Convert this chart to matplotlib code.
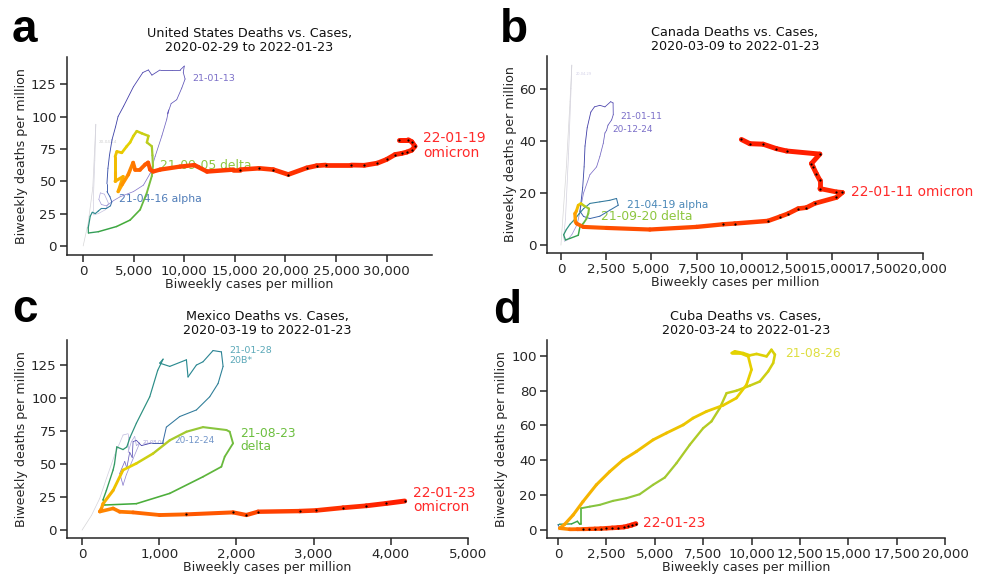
import numpy as np
import matplotlib
matplotlib.use("Agg")
import matplotlib.pyplot as plt
from matplotlib.collections import LineCollection
from matplotlib.colors import LinearSegmentedColormap
from matplotlib.ticker import FuncFormatter

# ---------------- data ----------------
# United States: biweekly cases / deaths per million, and colour position (time)
us_cases = [0, 500, 950, 1250, 1150, 1000, 1050, 1500, 2200, 2500, 2100, 1700, 1550, 1800, 2300,
            3000, 3650, 4970, 5960, 6620, 7110, 7780, 8270, 8450, 8350, 8700, 9250, 9750, 10080, 9900, 10000,
            9600, 8800, 7600, 6800, 6450, 5900,
            4970, 4000, 3450, 3200, 2850, 2600, 2450, 2350, 2350, 2650, 2830,
            2700, 2300, 1800, 1500, 1200, 900, 700, 500, 520, 1500, 3300, 4640, 5630, 6290, 6790, 6900,
            6850, 6790, 6300, 6460, 5800, 5300, 4970, 4640, 4310, 3820, 3330, 3160, 3160, 3160, 3950, 3460,
            3850, 4450, 4940, 5140, 5630, 6130, 6420, 6620, 6920,
            7610, 9580, 11000, 12250, 14860, 15500, 17400, 18800, 20290, 22100, 23090, 24000, 26500, 27800,
            29100, 30000, 30840, 31500, 32000, 32500, 32810, 32500, 32150, 31200]
us_deaths = [0, 18, 45, 94, 66, 35, 24, 25, 28, 33, 40, 41, 36, 32, 31,
             35, 38, 42, 47, 56, 69, 85, 98, 105, 102, 110, 113, 122, 129, 134, 139,
             136, 136, 136, 132, 136, 134,
             123, 108, 100, 92, 82, 70, 60, 48, 42, 38, 34,
             31, 29, 29, 27, 25, 26, 23, 14, 10, 11, 15, 20, 28, 41, 54, 62,
             70, 77, 80, 85, 87, 88.7, 85, 80, 77, 72, 73, 69, 57, 50, 53.6, 42,
             47.4, 55, 64.4, 59, 59, 62.9, 64.4, 59, 57.5,
             59, 61.3, 62.5, 57.5, 59, 59, 60, 59, 55.2, 60.3, 62, 62.5, 62.5, 62.3,
             64, 66.8, 70.6, 71.5, 72.5, 74, 77, 80.5, 82, 82]
us_shade = [0.00, 0.03, 0.06, 0.09, 0.12, 0.15, 0.18, 0.21, 0.24, 0.26, 0.28, 0.29, 0.30, 0.32, 0.34,
            0.36, 0.37, 0.38, 0.39, 0.40, 0.41, 0.42, 0.43, 0.435, 0.437, 0.44, 0.445, 0.45, 0.455, 0.458, 0.46,
            0.465, 0.47, 0.472, 0.475, 0.478, 0.48,
            0.49, 0.50, 0.51, 0.515, 0.52, 0.53, 0.54, 0.55, 0.56, 0.565, 0.57,
            0.60, 0.61, 0.62, 0.63, 0.635, 0.64, 0.65, 0.67, 0.68, 0.70, 0.72, 0.735, 0.75, 0.77, 0.785, 0.80,
            0.81, 0.82, 0.83, 0.835, 0.84, 0.845, 0.85, 0.855, 0.86, 0.865, 0.87, 0.875, 0.885, 0.89, 0.895, 0.90,
            0.91, 0.92, 0.93, 0.935, 0.94, 0.945, 0.95, 0.955, 0.96,
            0.963, 0.966, 0.969, 0.972, 0.975, 0.977, 0.979, 0.981, 0.983, 0.985, 0.986, 0.987, 0.988, 0.989,
            0.99, 0.991, 0.992, 0.993, 0.994, 0.995, 0.996, 0.997, 0.998, 1.0]
us_dots_from = 94

# Canada
ca_cases = [0, 300, 500, 600, 560, 420, 250, 150, 200, 350, 600,
            900, 1050, 1250, 1600, 1969, 2150, 2337, 2430, 2520, 2600, 2800, 2890, 2880,
            2750, 2430, 2150, 1850, 1650,
            1450, 1330, 1280, 1200, 1100, 1050,
            1250, 1600, 2150, 2700, 3165, 3070, 2700, 2150, 1600, 1250,
            1000, 770, 500, 300, 150, 250, 500, 957, 1049,
            1233, 1400, 1509, 1550, 1300,
            1100, 957, 850,
            773, 800, 865, 1233,
            2521, 4913, 7490, 8960, 9600, 11440, 12090, 12550, 13100, 13560, 14020, 15220, 15550, 15220,
            14300, 14300, 14110, 13930, 13840, 14300, 12460, 11900, 11170, 10430, 9970]
ca_deaths = [0, 30, 55, 69, 60, 35, 10, 3, 1.5, 2, 4,
             8, 13, 20, 27, 30, 34, 39, 43, 44, 46, 48, 50, 54.5,
             55, 53, 53.6, 53, 51,
             45, 38, 30, 22, 16, 13,
             11, 10.2, 11.1, 13.4, 15.3, 17.9, 17.2, 16.6, 16, 14,
             12, 10, 8, 6, 4, 2, 2.6, 3.8, 7,
             8.3, 10, 12.1, 14, 15,
             16, 15.3, 13,
             12.1, 9, 8.3, 7,
             6.6, 6, 7, 8, 8.3, 9.3, 10.9, 12.1, 14, 14.4, 16, 18.3, 20.2, 20.4,
             21.7, 24.9, 27.4, 30, 31.3, 34.9, 36.1, 37, 38.7, 38.9, 40.5]
ca_shade = [0.0, 0.03, 0.06, 0.08, 0.10, 0.13, 0.16, 0.20, 0.25, 0.30, 0.33,
            0.35, 0.37, 0.39, 0.40, 0.41, 0.42, 0.43, 0.44, 0.445, 0.45, 0.455, 0.46, 0.465,
            0.47, 0.475, 0.48, 0.485, 0.49,
            0.50, 0.51, 0.52, 0.53, 0.54, 0.55,
            0.56, 0.57, 0.58, 0.59, 0.595, 0.60, 0.605, 0.61, 0.615, 0.62,
            0.63, 0.64, 0.65, 0.66, 0.67, 0.68, 0.69, 0.70, 0.72,
            0.75, 0.77, 0.79, 0.80, 0.82,
            0.85, 0.87, 0.89,
            0.90, 0.92, 0.93, 0.95,
            0.955, 0.96, 0.965, 0.97, 0.973, 0.976, 0.978, 0.98, 0.982, 0.984, 0.986, 0.988, 0.99, 0.991,
            0.992, 0.993, 0.994, 0.995, 0.996, 0.997, 0.998, 0.998, 0.999, 0.999, 1.0]
ca_dots_from = 69

# Mexico
mx_cases = [0, 121, 229, 315, 423, 531, 596, 596, 639, 682, 704, 747, 661, 574, 531,
            488, 553, 580, 617, 650, 661, 704, 769, 900, 1045,
            1092, 1265, 1481, 1654, 1762, 1827, 1805, 1697,
            1567, 1481, 1373, 1352, 1136, 1006, 1050, 980,
            877, 704, 620, 580, 531, 450, 420, 402, 315, 272,
            294, 704, 1136, 1567, 1805, 1848, 1956, 1913, 1870,
            1567, 1352, 1136, 920, 704, 531, 402, 272, 250,
            229, 402, 488, 661, 1006, 1352, 1956, 2129, 2280, 2820, 3036, 3381, 3683, 3942, 4180]
mx_deaths = [0, 11, 24, 39, 57, 72, 73, 59, 67, 71, 64, 66, 54, 42, 34,
             43, 52, 47, 59, 55, 67, 68, 64, 66, 66,
             78, 86, 91, 101, 111, 124, 135, 136,
             127.5, 125, 116, 129, 124, 126.5, 129.5, 121,
             101, 81, 70, 63, 61, 63, 50, 45.5, 30, 23,
             19, 20, 27.8, 40.4, 48, 55.6, 65.7, 74.5, 75.8,
             78, 74.5, 68, 58, 50.5, 45.5, 30, 20, 16,
             14, 16.4, 13.9, 13.4, 11.4, 11.9, 13.4, 11.4, 13.9, 14.4, 14.9, 16.9, 18.4, 20.2, 22]
mx_shade = [0.0, 0.05, 0.10, 0.15, 0.20, 0.24, 0.26, 0.27, 0.28, 0.29, 0.30, 0.31, 0.33, 0.35, 0.37,
            0.40, 0.42, 0.43, 0.44, 0.45, 0.46, 0.47, 0.48, 0.52, 0.57,
            0.605, 0.61, 0.615, 0.62, 0.622, 0.625, 0.627, 0.63,
            0.632, 0.634, 0.636, 0.638, 0.64, 0.642, 0.644, 0.646,
            0.65, 0.655, 0.66, 0.665, 0.67, 0.675, 0.68, 0.685, 0.69, 0.70,
            0.72, 0.73, 0.74, 0.75, 0.76, 0.765, 0.77, 0.78, 0.79,
            0.80, 0.81, 0.82, 0.835, 0.85, 0.865, 0.88, 0.895, 0.91,
            0.92, 0.925, 0.93, 0.935, 0.94, 0.945, 0.955, 0.96, 0.965, 0.975, 0.98, 0.985, 0.99, 0.995, 1.0]
mx_dots_from = 74

# Cuba
cu_cases = [0, 150, 300, 100, 0, 86, 700, 1000, 1120, 1207, 1207,
            1640, 2155, 2840, 3530, 4220, 4910, 5520, 6120, 6810, 7500, 7930, 8360, 8710, 9220, 9910,
            10430, 10860, 11120, 11210,
            11030, 10780, 10260, 9910, 9570, 9140, 8970, 9400, 9830, 10000,
            9740, 9220, 8530, 7670, 6980, 6470, 5600, 4910, 4050, 3360, 2670, 1980, 1290, 780, 345, 86,
            600, 1000, 1300, 1600, 1900, 2200, 2500, 2800, 3100, 3400, 3600, 3800, 4020]
cu_deaths = [0, 0.3, 0.6, 1, 3, 3.3, 3.5, 5, 3.3, 3.3, 12.5,
             13.4, 14.4, 16.7, 18.2, 20.5, 25.9, 30.1, 38.3, 48.9, 58.4, 62.3, 69.9, 78.5, 79.9, 82.8,
             85.2, 91, 95.8, 100.6,
             103.4, 99.6, 101, 100.2, 101.5, 102.5, 101.5, 101.5, 99.6, 92,
             83.3, 75.7, 71.5, 68, 64.2, 60.3, 55.6, 51.7, 45, 40.2, 33.5, 25.9, 16.3, 8.6, 3.3, 1,
             0.4, 0.45, 0.5, 0.6, 0.7, 0.8, 1.0, 1.2, 1.4, 1.7, 2.2, 2.8, 3.6]
cu_shade = [0.0, 0.2, 0.4, 0.5, 0.6, 0.68, 0.70, 0.71, 0.72, 0.73, 0.76,
            0.79, 0.795, 0.80, 0.803, 0.806, 0.81, 0.813, 0.816, 0.82, 0.823, 0.826, 0.829, 0.832, 0.835, 0.838,
            0.84, 0.843, 0.846, 0.85,
            0.851, 0.852, 0.853, 0.854, 0.855, 0.856, 0.857, 0.858, 0.859, 0.86,
            0.862, 0.864, 0.866, 0.868, 0.87, 0.872, 0.874, 0.876, 0.878, 0.88, 0.883, 0.886, 0.89, 0.895, 0.90, 0.91,
            0.93, 0.94, 0.95, 0.96, 0.965, 0.97, 0.975, 0.98, 0.985, 0.99, 0.993, 0.996, 1.0]
cu_dots_from = 58

titles = ["United States Deaths vs. Cases,\n2020-02-29 to 2022-01-23",
          "Canada Deaths vs. Cases,\n2020-03-09 to 2022-01-23",
          "Mexico Deaths vs. Cases,\n2020-03-19 to 2022-01-23",
          "Cuba Deaths vs. Cases,\n2020-03-24 to 2022-01-23"]
panel_letters = ["a", "b", "c", "d"]
xlabel = "Biweekly cases per million"
ylabel = "Biweekly deaths per million"

# ---------------- style ----------------
cmap = LinearSegmentedColormap.from_list("wave", [
    (0.00, '#d6d6d6'), (0.20, '#d0cee0'), (0.30, '#aaa2da'), (0.40, '#7d6ec8'),
    (0.50, '#3f3aa6'), (0.57, '#3a62ac'), (0.64, '#2a8a90'), (0.72, '#3aa83a'),
    (0.80, '#8cc63f'), (0.86, '#e6d200'), (0.91, '#ffa000'), (0.95, '#ff5a00'),
    (1.00, '#ff1e00')])

fig = plt.figure(figsize=(9.86, 5.75), dpi=100)
W, H = 986, 575

def px_axes(l, r, t, b):
    return fig.add_axes([l / W, 1 - b / H, (r - l) / W, (b - t) / H])

axes = [px_axes(67, 432, 57, 255), px_axes(547, 923, 56, 253),
        px_axes(67, 468, 340, 538), px_axes(547, 945, 340, 538)]
lims = [((-1600, 34500), (-7, 146)), ((-770, 20000), (-3, 72.5)),
        ((-195, 5000), (-6, 144)), ((-570, 20000), (-4.6, 109))]
xticks = [np.arange(0, 30001, 5000), np.arange(0, 20001, 2500),
          np.arange(0, 5001, 1000), np.arange(0, 20001, 2500)]
yticks = [np.arange(0, 126, 25), np.arange(0, 61, 20),
          np.arange(0, 126, 25), np.arange(0, 101, 20)]

def draw_path(ax, xs, ys, cs, dots_from):
    xs = np.asarray(xs, float); ys = np.asarray(ys, float); cs = np.asarray(cs, float)
    pts = np.column_stack([xs, ys])
    segs = np.stack([pts[:-1], pts[1:]], axis=1)
    cm = (cs[:-1] + cs[1:]) / 2
    lws = 0.5 + 3.1 * cm ** 5
    lc = LineCollection(segs, colors=cmap(cm), linewidths=lws,
                        capstyle='round', joinstyle='round', zorder=2)
    ax.add_collection(lc)
    ax.plot(xs[dots_from:], ys[dots_from:], 'o', color='k', ms=1.6, mew=0, zorder=3)

series = [(us_cases, us_deaths, us_shade, us_dots_from),
          (ca_cases, ca_deaths, ca_shade, ca_dots_from),
          (mx_cases, mx_deaths, mx_shade, mx_dots_from),
          (cu_cases, cu_deaths, cu_shade, cu_dots_from)]

fmt = FuncFormatter(lambda v, p: f"{v:,.0f}")
for i, ax in enumerate(axes):
    draw_path(ax, *series[i])
    ax.set_xlim(*lims[i][0]); ax.set_ylim(*lims[i][1])
    ax.set_xticks(xticks[i]); ax.set_yticks(yticks[i])
    ax.xaxis.set_major_formatter(fmt)
    for s in ['top', 'right']:
        ax.spines[s].set_visible(False)
    for s in ['left', 'bottom']:
        ax.spines[s].set_linewidth(1.1)
        ax.spines[s].set_color('#262626')
    ax.tick_params(direction='out', length=5, width=1.1, labelsize=9.6,
                   colors='#262626', pad=2.5)
    ax.set_title(titles[i], fontsize=9.2, pad=4, color='#111111', linespacing=1.1)
    ax.set_xlabel(xlabel, fontsize=9.1, labelpad=0, color='#262626')
    ax.set_ylabel(ylabel, fontsize=9.1, labelpad=2, color='#262626')

# annotations (text, x, y, colour, size) in data coordinates
ann_us = [("20-04-14", 1580, 80.7, '#d0d0d0', 3),
          ("21-01-13", 10770, 129.4, '#7b6fc8', 6.8),
          ("21-04-16 alpha", 3590, 36.3, '#4f7cb8', 7.8),
          ("21-09-05 delta", 7610, 62.3, '#8dc63f', 8.9),
          ("22-01-19\nomicron", 33590, 77.6, '#ff2a2a', 10)]
ann_ca = [("20-04-29", 828, 65.5, '#d0cee6', 2.5),
          ("21-01-11", 3257, 49.4, '#7b6fc8', 6.7),
          ("20-12-24", 2834, 44.3, '#7b6fc8', 6.5),
          ("21-04-19 alpha", 3625, 15.3, '#4a88b8', 7.7),
          ("21-09-20 delta", 2208, 11.1, '#8dc63f', 8.9),
          ("22-01-11 omicron", 16045, 20.4, '#ff2a2a', 9.9)]
ann_mx = [("20-08-04", 790, 66.4, '#a49cd8', 3.5),
          ("20-12-24", 1200, 68.2, '#7094c8', 6.4),
          ("21-01-28\n20B*", 1904, 132.3, '#5aa8b8', 6.8),
          ("21-08-23\ndelta", 2051, 68.2, '#6cbf3f', 8.8),
          ("22-01-23\nomicron", 4288, 22.7, '#ff2a2a', 10)]
ann_cu = [("21-08-26", 11720, 101.1, '#dede40', 8.8),
          ("22-01-23", 4396, 3.8, '#ff2a2a', 10)]
for ax, anns in zip(axes, [ann_us, ann_ca, ann_mx, ann_cu]):
    for txt, x, y, col, sz in anns:
        ax.text(x, y, txt, color=col, fontsize=sz, ha='left', va='center',
                zorder=1, linespacing=1.05)

letter_pos = [(12, 42), (500, 42), (12, 322), (493, 323)]
for L, (x, y) in zip(panel_letters, letter_pos):
    fig.text(x / W, 1 - y / H, L, fontsize=33, fontweight='bold',
             family=['Liberation Sans', 'DejaVu Sans'], va='baseline', ha='left')

fig.savefig("out.png", dpi=100)
